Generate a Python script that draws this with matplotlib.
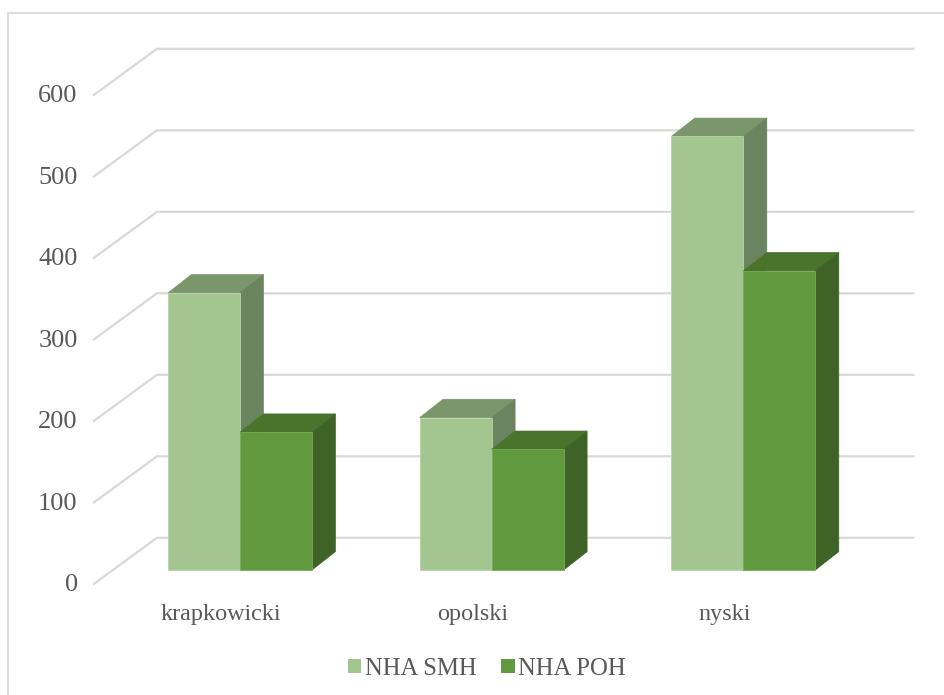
import matplotlib
matplotlib.use('Agg')
import matplotlib.pyplot as plt
from matplotlib.patches import Patch, Polygon

categories = ['krapkowicki', 'opolski', 'nyski']
nha_smh = [340, 187, 532]
nha_poh = [169, 148, 367]
y_ticks = [0, 100, 200, 300, 400, 500, 600]

plt.rcParams['font.family'] = ['Liberation Serif', 'DejaVu Serif']

GREY = '#595959'
GRID = '#d9d9d9'
bar_w = 0.286
depth_x = 0.093
depth_y = 22.5
wall_back = 39.5
wall_front = -17

fig = plt.figure(figsize=(9.44, 6.95), dpi=100)
ax = fig.add_axes([0, 0, 1, 1])
ax.set_xlim(-0.9535, 2.797)
ax.set_ylim(-153.4, 699.4)
ax.axis('off')

# outer chart frame, only top and left are visible
ax.plot([-0.921, -0.921, 2.797], [-153.4, 683, 683], color=GRID, lw=1.3, clip_on=False)

# back wall gridlines with the oblique part going down to the tick label
for v in y_ticks:
    ax.plot([-0.58, -0.33, 2.675], [v + wall_front, v + wall_back, v + wall_back],
            color=GRID, lw=1.6, zorder=1, solid_joinstyle='miter')
    ax.text(-0.645, v + wall_front - 1.5, str(v), ha='right', va='center', fontsize=19, color=GREY)


def box(left, value, front, side, top, z):
    right = left + bar_w
    ax.add_patch(Polygon([(left, value), (left + depth_x, value + depth_y),
                          (right + depth_x, value + depth_y), (right, value)],
                         facecolor=top, edgecolor=top, lw=0.5, zorder=z))
    ax.add_patch(Polygon([(right, 0), (right + depth_x, depth_y),
                          (right + depth_x, value + depth_y), (right, value)],
                         facecolor=side, edgecolor=side, lw=0.5, zorder=z))
    ax.bar(left, value, bar_w, align='edge', color=front, edgecolor='#b9d3a9' if z == 2 else '#78ab58',
           lw=0.6, zorder=z + 0.5)


for i, name in enumerate(categories):
    box(i - bar_w, nha_smh[i], '#a3c58f', '#6a845f', '#7b966b', 2)
    box(i, nha_poh[i], '#619a3e', '#3f6327', '#4a732c', 3)
    ax.text(i - 0.075, -55, name, ha='center', va='center', fontsize=17.4, color=GREY)

handles = [Patch(facecolor='#a3c58f', label='NHA SMH'), Patch(facecolor='#619a3e', label='NHA POH')]
ax.legend(handles=handles, loc='center', bbox_to_anchor=(0.516, 0.0375), ncol=2, frameon=False,
          fontsize=17.8, labelcolor=GREY, handlelength=0.53, handleheight=0.53, handletextpad=0.15,
          columnspacing=1.0, borderpad=0)

fig.savefig('out.png', dpi=100)
